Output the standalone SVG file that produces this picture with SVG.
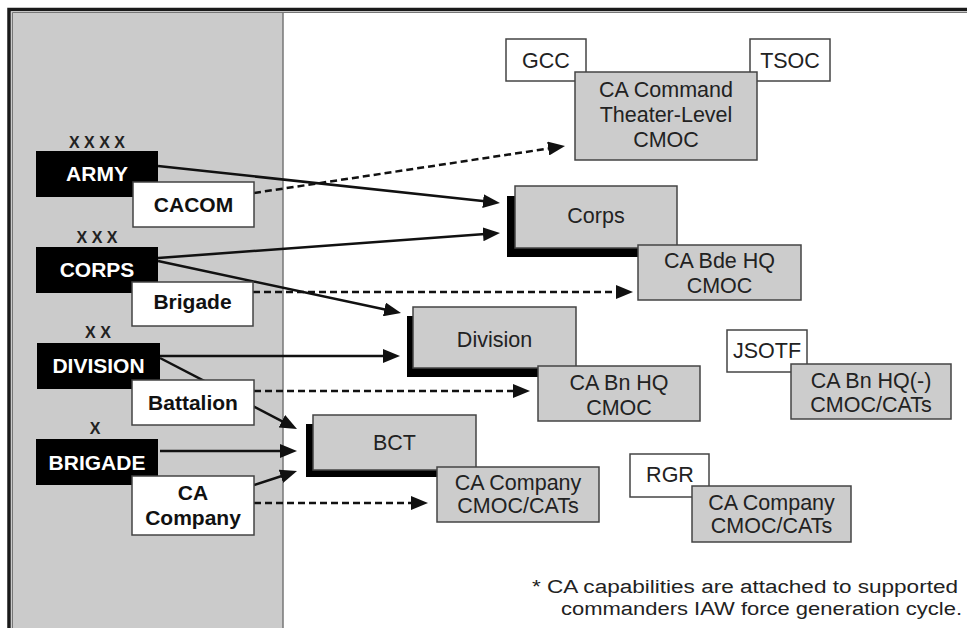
<svg xmlns="http://www.w3.org/2000/svg" width="967" height="628" viewBox="0 0 967 628">
<defs>
<marker id="ah" markerUnits="userSpaceOnUse" markerWidth="18" markerHeight="14" refX="9" refY="7" orient="auto">
<path d="M0,0 L17,7 L0,14 z" fill="#111"/>
</marker>
<style>
.blk{fill:#000}
.wht{fill:#fff;stroke:#444;stroke-width:1.5}
.gry{fill:#cccccc;stroke:#444;stroke-width:1.5}
.shd{fill:#000}
.lb{font-family:"Liberation Sans",Arial,sans-serif;font-weight:bold;font-size:21px;text-anchor:middle}
.lw{fill:#fff}
.lk{fill:#111}
.rt{font-family:"Liberation Sans",Arial,sans-serif;font-size:21.5px;text-anchor:middle;fill:#222}
.xx{font-family:"Liberation Sans",Arial,sans-serif;font-weight:bold;font-size:16px;text-anchor:middle;fill:#222}
.sl{fill:none;stroke:#111;stroke-width:2.5;marker-end:url(#ah)}
.dl{fill:none;stroke:#111;stroke-width:2.5;stroke-dasharray:7 4;marker-end:url(#ah)}
.fn{font-family:"Liberation Sans",Arial,sans-serif;font-size:18px;fill:#222}
</style>
</defs>
<rect x="0" y="0" width="967" height="628" fill="#fff"/>
<rect x="11" y="12" width="272" height="616" fill="#cbcbcb"/>
<path d="M9,628 V9.5 H967" fill="none" stroke="#1a1a1a" stroke-width="3.5"/>
<path d="M12.5,628 V12.5 H967" fill="none" stroke="#777" stroke-width="1"/>
<line x1="283" y1="12" x2="283" y2="628" stroke="#777" stroke-width="1.5"/>

<g id="connectors">
<path class="sl" d="M158,166 L492,202.1"/>
<path class="dl" d="M254,193 L557.1,147.2"/>
<path class="sl" d="M158,258 L492,233.6"/>
<path class="sl" d="M158,261 L393.2,311.3"/>
<path class="dl" d="M253,292 L625,292"/>
<path class="sl" d="M160,356 L392,356"/>
<path class="sl" d="M160,358 L289.9,425.3"/>
<path class="dl" d="M254,391 L522,391"/>
<path class="sl" d="M160,451 L289,451"/>
<path class="sl" d="M254,485 L289.4,473.5"/>
<path class="dl" d="M254,503 L420,503"/>
</g>

<g id="army">
<text class="xx" x="97" y="148">X X X X</text>
<rect class="blk" x="36" y="151" width="122" height="46"/>
<text class="lb lw" x="97" y="181">ARMY</text>
</g>
<g id="cacom">
<rect class="wht" x="133" y="182" width="121" height="45"/>
<text class="lb lk" x="193.5" y="212">CACOM</text>
</g>
<g id="corps-unit">
<text class="xx" x="97" y="243">X X X</text>
<rect class="blk" x="36" y="247" width="122" height="46"/>
<text class="lb lw" x="97" y="277">CORPS</text>
</g>
<g id="brigade-ca">
<rect class="wht" x="132" y="282" width="121" height="44"/>
<text class="lb lk" x="192.5" y="309">Brigade</text>
</g>
<g id="division-unit">
<text class="xx" x="98" y="338">X X</text>
<rect class="blk" x="37" y="343" width="123" height="46"/>
<text class="lb lw" x="98.5" y="373">DIVISION</text>
</g>
<g id="battalion">
<rect class="wht" x="132" y="380" width="122" height="45"/>
<text class="lb lk" x="193" y="410">Battalion</text>
</g>
<g id="brigade-unit">
<text class="xx" x="95" y="434">X</text>
<rect class="blk" x="36" y="439" width="122" height="46"/>
<text class="lb lw" x="97" y="470">BRIGADE</text>
</g>
<g id="ca-company-left">
<rect class="wht" x="132" y="476" width="122" height="59"/>
<text class="lb lk" x="193" y="500">CA</text>
<text class="lb lk" x="193" y="525">Company</text>
</g>

<g id="gcc">
<rect class="wht" x="506" y="39" width="80" height="42"/>
<text class="rt" x="546" y="68">GCC</text>
</g>
<g id="tsoc">
<rect class="wht" x="750" y="39" width="80" height="42"/>
<text class="rt" x="790" y="68">TSOC</text>
</g>
<g id="ca-command">
<rect class="gry" x="575" y="72" width="182" height="88"/>
<text class="rt" x="666" y="97">CA Command</text>
<text class="rt" x="666" y="122">Theater-Level</text>
<text class="rt" x="666" y="147">CMOC</text>
</g>
<g id="corps">
<rect class="shd" x="507" y="196" width="163" height="61"/>
<rect class="gry" x="515" y="186" width="162" height="62"/>
<text class="rt" x="596" y="223">Corps</text>
</g>
<g id="ca-bde-hq">
<rect class="gry" x="638" y="245" width="163" height="55"/>
<text class="rt" x="719.5" y="268">CA Bde HQ</text>
<text class="rt" x="719.5" y="293">CMOC</text>
</g>
<g id="division">
<rect class="shd" x="407" y="316" width="163" height="61"/>
<rect class="gry" x="413" y="307" width="163" height="61"/>
<text class="rt" x="494.5" y="347">Division</text>
</g>
<g id="ca-bn-hq">
<rect class="gry" x="538" y="366" width="162" height="55"/>
<text class="rt" x="619" y="390">CA Bn HQ</text>
<text class="rt" x="619" y="415">CMOC</text>
</g>
<g id="bct">
<rect class="shd" x="306" y="424" width="163" height="53"/>
<rect class="gry" x="313" y="415" width="163" height="55"/>
<text class="rt" x="394.5" y="450">BCT</text>
</g>
<g id="ca-company-bct">
<rect class="gry" x="437" y="467" width="162" height="55"/>
<text class="rt" x="518" y="490">CA Company</text>
<text class="rt" x="518" y="513">CMOC/CATs</text>
</g>
<g id="jsotf">
<rect class="wht" x="727" y="330" width="80" height="42"/>
<text class="rt" x="767" y="358">JSOTF</text>
</g>
<g id="ca-bn-hq-minus">
<rect class="gry" x="791" y="364" width="160" height="55"/>
<text class="rt" x="871" y="388">CA Bn HQ(-)</text>
<text class="rt" x="871" y="412">CMOC/CATs</text>
</g>
<g id="rgr">
<rect class="wht" x="630" y="454" width="79" height="43"/>
<text class="rt" x="670" y="482">RGR</text>
</g>
<g id="ca-company-rgr">
<rect class="gry" x="692" y="486" width="159" height="56"/>
<text class="rt" x="771.5" y="510">CA Company</text>
<text class="rt" x="771.5" y="533">CMOC/CATs</text>
</g>

<g id="footnote">
<text class="fn" x="532" y="593" textLength="426" lengthAdjust="spacingAndGlyphs">* CA capabilities are attached to supported</text>
<text class="fn" x="561" y="615" textLength="401" lengthAdjust="spacingAndGlyphs">commanders IAW force generation cycle.</text>
</g>
</svg>
